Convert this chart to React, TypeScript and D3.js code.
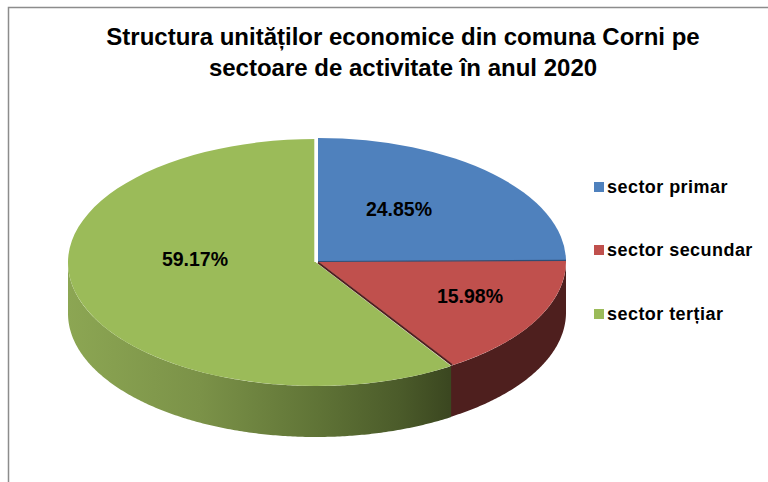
import * as d3 from 'd3'

const titleLines = ['Structura unităților economice din comuna Corni pe', 'sectoare de activitate în anul 2020']
const categories = ['sector primar', 'sector secundar', 'sector terțiar']
const values = [24.85, 15.98, 59.17]
const topColors = ['#4f81bd', '#c0504d', '#9bbb59']
const sideColors = ['#2c4a70', '#4e1f1e', 'url(#greenSide)']
const greenStops = [
  { x: 68, color: '#8ca653' },
  { x: 200, color: '#7b9248' },
  { x: 320, color: '#5f7336' },
  { x: 400, color: '#4b5b2a' },
  { x: 449, color: '#3b4720' },
]

const width = 768
const height = 482
const rx = 248
const ry = 123.5
const depth = 51
// the green slice is pulled out a little from the other two
const centers = [
  { x: 318, y: 261.5 },
  { x: 318, y: 261.5 },
  { x: 316, y: 262.5 },
]
const labelPos = [
  { x: 399, y: 209 },
  { x: 470, y: 296 },
  { x: 195, y: 259 },
]
const legendY = [187, 250, 314]

const pie = d3.pie<number>().sort(null)
const arcs = pie(values)
const arc = d3.arc<d3.PieArcDatum<number>>().innerRadius(0).outerRadius(rx)

// outer wall of a slice, only the part facing the viewer
const wall = (a0: number, a1: number, c: { x: number; y: number }) => {
  const from = Math.max(a0, Math.PI / 2)
  const to = Math.min(a1, (3 * Math.PI) / 2)
  if (to <= from) return null
  const steps = d3.range(from, to, 0.01).concat(to)
  return d3
    .area<number>()
    .x(t => c.x + rx * Math.sin(t))
    .y0(t => c.y - ry * Math.cos(t))
    .y1(t => c.y - ry * Math.cos(t) + depth)(steps)
}

const rim = (t: number, c: { x: number; y: number }) => ({
  x: c.x + rx * Math.sin(t),
  y: c.y - ry * Math.cos(t),
})

export default function App() {
  const blueEnd = rim(arcs[0].endAngle, centers[0])
  const redEnd = rim(arcs[1].endAngle, centers[1])
  return (
    <svg
      width={width}
      height={height}
      style={{ position: 'absolute', left: 0, top: 0, background: '#fff' }}
      fontFamily="'Liberation Sans', Arial, sans-serif"
    >
      <defs>
        <linearGradient id="greenSide" gradientUnits="userSpaceOnUse" x1={68} x2={449} y1={0} y2={0}>
          {greenStops.map(s => (
            <stop key={s.x} offset={(s.x - 68) / (449 - 68)} stopColor={s.color} />
          ))}
        </linearGradient>
      </defs>

      <path d="M8.5 482V7.5H768" fill="none" stroke="#8c8c8c" strokeWidth={1.5} />

      {titleLines.map((line, i) => (
        <text key={line} x={403} y={45 + i * 31} textAnchor="middle" fontSize={24} fontWeight="bold" fill="#000">
          {line}
        </text>
      ))}

      {/* red wall runs a bit under the green one so no white sliver shows */}
      {arcs.map((d, i) => {
        const w = wall(d.startAngle, d.endAngle + (i === 1 ? 0.015 : 0), centers[i])
        return w ? <path key={i} d={w} fill={sideColors[i]} /> : null
      })}

      {[2, 0, 1].map(i => (
        <path
          key={i}
          d={arc(arcs[i]) as string}
          transform={`translate(${centers[i].x},${centers[i].y}) scale(1,${ry / rx})`}
          fill={topColors[i]}
        />
      ))}

      {/* dark seams along the cut edges */}
      <line x1={centers[0].x} y1={centers[0].y} x2={blueEnd.x} y2={blueEnd.y} stroke="#2f4d74" strokeWidth={1.2} />
      <line x1={centers[1].x} y1={centers[1].y + 1} x2={redEnd.x - 1} y2={redEnd.y} stroke="#4e1f1e" strokeWidth={2} />

      {/* gap between the green and blue slices */}
      <line x1={316} x2={316} y1={137} y2={262} stroke="#fff" strokeWidth={3.4} />

      {values.map((v, i) => (
        <text key={i} x={labelPos[i].x} y={labelPos[i].y} dy="0.35em" textAnchor="middle" fontSize={19.5} fontWeight="bold" fill="#000">
          {v.toFixed(2)}%
        </text>
      ))}

      {categories.map((c, i) => (
        <g key={c} transform={`translate(594,${legendY[i]})`}>
          <rect x={0} y={-5} width={10} height={10} fill={topColors[i]} />
          <text x={13} y={0} dy="0.35em" fontSize={18} fontWeight="bold" fill="#000" letterSpacing={0.45}>
            {c}
          </text>
        </g>
      ))}
    </svg>
  )
}
